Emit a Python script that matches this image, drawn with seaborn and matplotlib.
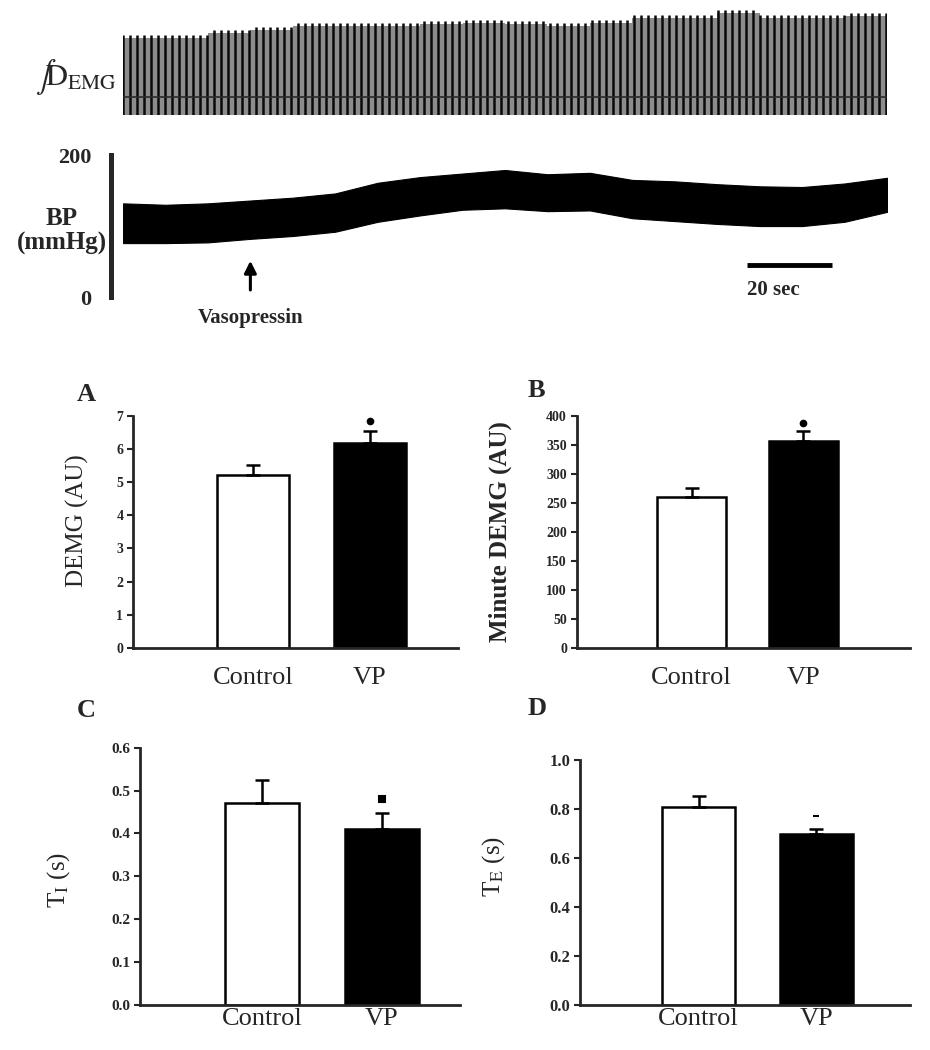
import numpy as np
import pandas as pd
import seaborn as sns
import matplotlib.pyplot as plt

# --- traces (every 10 s) ---
trace_t = [0, 10, 20, 30, 40, 50, 60, 70, 80, 90, 100, 110, 120, 130, 140, 150, 160, 170, 180]
emg_top = [80, 80, 85, 88, 92, 92, 92, 94, 95, 94, 92, 95, 100, 100, 105, 100, 100, 102, 103]
bp_upper = [132, 130, 132, 136, 140, 146, 161, 169, 174, 179, 173, 175, 165, 163, 159, 156, 155, 160, 168]
bp_lower = [76, 76, 77, 82, 86, 92, 106, 115, 123, 125, 121, 122, 111, 107, 103, 100, 100, 106, 120]
breath_period = 1.65   # s
emg_base = 18
vaso_t = 30

# --- bar panels ---
groups = ["Control", "VP"]
demg = [5.21, 6.17]
demg_sem = [0.31, 0.37]
min_demg = [260, 356]
min_demg_sem = [15, 17]
ti = [0.472, 0.410]
ti_sem = [0.052, 0.038]
te = [0.808, 0.700]
te_sem = [0.045, 0.020]
sig_y = [6.85, 388, 0.481, 0.771]

sns.set_style("ticks")
plt.rcParams['font.family'] = ['Liberation Serif', 'DejaVu Serif']
plt.rcParams['mathtext.fontset'] = 'stix'

fig = plt.figure(figsize=(9.3, 10.5), dpi=100)

# EMG trace
ax_emg = fig.add_axes([0.1323, 0.8905, 0.8215, 0.1048])
breaths = np.arange(0, 180, breath_period)
heights = [emg_top[int(b // 10)] for b in breaths]
ax_emg.fill_between(trace_t, 0, [h - 3 for h in emg_top], step='post', color='#8c8c8c', lw=0)
ax_emg.vlines(breaths, 0, heights, color='#0a0a0a', lw=1.8)
ax_emg.axhline(emg_base, color='#2a2a2a', lw=1.2)
ax_emg.set_xlim(0, 180)
ax_emg.set_ylim(0, 110)
ax_emg.axis('off')
fig.text(0.038, 0.927, r"$\int\!\mathrm{D}_{\mathrm{EMG}}$", fontsize=22, va='center', ha='left')

# BP trace
ax_bp = fig.add_axes([0.1323, 0.7171, 0.8215, 0.1352])
ax_bp.fill_between(trace_t, bp_lower, bp_upper, color='black', lw=0.8)
ax_bp.set_xlim(0, 180)
ax_bp.set_ylim(0, 200)
for s in ['top', 'right', 'bottom']:
    ax_bp.spines[s].set_visible(False)
ax_bp.spines['left'].set_position(('outward', 9))
ax_bp.spines['left'].set_linewidth(3.6)
ax_bp.set_xticks([])
ax_bp.set_yticks([0, 200])
ax_bp.tick_params(axis='y', length=0, pad=14, labelsize=16)
for lab in ax_bp.get_yticklabels():
    lab.set_fontweight('bold')
ax_bp.set_ylabel("BP\n(mmHg)", rotation=0, fontsize=18, fontweight='bold',
                 ha='center', va='center', linespacing=1.05)
ax_bp.yaxis.set_label_coords(-0.08, 0.465)
ax_bp.annotate("", xy=(vaso_t, 55), xytext=(vaso_t, 6),
               arrowprops=dict(arrowstyle='-|>', color='black', lw=2.2, mutation_scale=18))
ax_bp.text(vaso_t, -30, "Vasopressin", ha='center', va='center', fontsize=15,
           fontweight='bold', clip_on=False)
ax_bp.plot([147, 167], [45, 45], color='black', lw=3.5, solid_capstyle='butt')
ax_bp.text(147, 10, "20 sec", ha='left', va='center', fontsize=15, fontweight='bold')


def bar_panel(rect, vals, sems, sig, marker, ylim, yticks, fmt, ylabel, label_xy,
              letter, letter_xy, xlim, tick_size, xpad, label_weight='normal'):
    ax = fig.add_axes(rect)
    df = pd.DataFrame({"group": groups, "value": vals})
    sns.barplot(data=df, x="group", y="value", hue="group", palette=["white", "black"],
                edgecolor="black", linewidth=1.8, width=0.62, legend=False, ax=ax)
    ax.errorbar([0, 1], vals, yerr=[[0, 0], sems], fmt='none', ecolor='black',
                elinewidth=1.8, capsize=5, capthick=1.8, zorder=3)
    ax.plot(1, sig, marker=marker, color='black', ms=4, mew=1.5)
    ax.set_xlim(*xlim)
    ax.set_ylim(*ylim)
    ax.set_yticks(yticks)
    ax.set_yticklabels([fmt.format(v) for v in yticks], fontweight='bold', fontsize=tick_size)
    ax.set_xlabel("")
    ax.set_ylabel(ylabel, fontsize=18, fontweight=label_weight)
    ax.yaxis.set_label_coords(*label_xy)
    ax.tick_params(axis='x', length=0, labelsize=19, pad=xpad)
    ax.tick_params(axis='y', length=4, width=1.5, pad=3)
    sns.despine(ax=ax)
    for s in ['left', 'bottom']:
        ax.spines[s].set_linewidth(2)
    fig.text(letter_xy[0], letter_xy[1], letter, fontsize=19, fontweight='bold',
             ha='left', va='center')
    return ax


bar_panel([0.143, 0.383, 0.349, 0.221], demg, demg_sem, sig_y[0], 'o',
          (0, 7), list(range(0, 8)), "{:d}", "DEMG (AU)", (-0.134, 0.55),
          "A", (0.083, 0.624), (-1.03, 1.75), 10, 14)
bar_panel([0.620, 0.383, 0.358, 0.221], min_demg, min_demg_sem, sig_y[1], 'o',
          (0, 400), list(range(0, 401, 50)), "{:d}", "Minute DEMG (AU)", (-0.195, 0.5),
          "B", (0.567, 0.6285), (-1.03, 1.95), 10, 14, 'bold')
bar_panel([0.1505, 0.0429, 0.344, 0.245], ti, ti_sem, sig_y[2], 's',
          (0, 0.6), [0.0, 0.1, 0.2, 0.3, 0.4, 0.5, 0.6], "{:.1f}", r"T$_\mathrm{I}$ (s)",
          (-0.2125, 0.486), "C", (0.083, 0.3238), (-1.02, 1.65), 11, 2)
bar_panel([0.6237, 0.0429, 0.355, 0.233], te, te_sem, sig_y[3], '_',
          (0, 1.0), [0.0, 0.2, 0.4, 0.6, 0.8, 1.0], "{:.1f}", r"T$_\mathrm{E}$ (s)",
          (-0.221, 0.565), "D", (0.567, 0.3248), (-1.01, 1.80), 12, 2)

fig.savefig("out.png", dpi=100)
